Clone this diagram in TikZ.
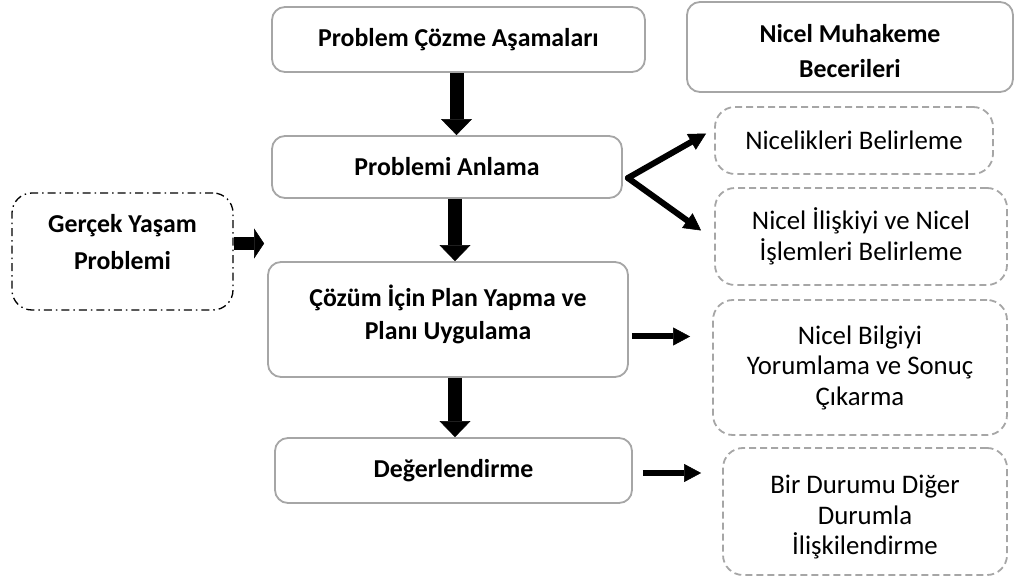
\documentclass[tikz,border=0pt]{standalone}
\usepackage{fontspec}
\setmainfont{Carlito}
\usetikzlibrary{arrows.meta,calc}
\definecolor{boxgray}{HTML}{A6A6A6}
\tikzset{
  boldtext/.style={align=center, inner sep=0pt, font=\fontsize{25.8}{34}\selectfont\bfseries},
  plaintext/.style={align=center, inner sep=0pt, font=\fontsize{26.8}{30.5}\selectfont},
  stage/.style={draw=boxgray, line width=1.8pt, rounded corners=13pt, fill=white, boldtext},
  skill/.style={draw=boxgray, line width=1.8pt, dash pattern=on 7pt off 4pt,
    rounded corners=20pt, plaintext},
  reallife/.style={draw=black, line width=1.3pt,
    dash pattern=on 8pt off 4pt on 1.5pt off 4pt, rounded corners=20pt},
  bigarrow/.style={line width=14pt, -{Triangle[width=31pt,length=16pt,line width=0.5pt]}},
  sidearrow/.style={line width=13pt, -{Triangle[width=30pt,length=10pt,line width=0.5pt]}},
  thinarrow/.style={line width=6pt, -{Triangle[width=18pt,length=17pt,line width=0.5pt]}},
}
\begin{document}
\begin{tikzpicture}[x=1pt,y=-1pt]
  \useasboundingbox (0,0) rectangle (1015,585);

  % main stages
  \node[stage, minimum width=373pt, minimum height=65pt] (pca) at (458.5,39.5)
    {Problem Çözme Aşamaları};
  \node[stage, minimum width=350pt, minimum height=62pt] (pa) at (447,167)
    {Problemi Anlama};
  \node[stage, minimum width=360pt, minimum height=115pt] (cp) at (448,319.5) {};
  \node[boldtext, font=\fontsize{25.8}{33}\selectfont\bfseries] (cptext)
    at ([yshift=5pt]cp.center) {Çözüm İçin Plan Yapma ve\\Planı Uygulama};
  \node[stage, minimum width=357pt, minimum height=65pt] (dg) at (453.5,470.5)
    {Değerlendirme};

  % heading of the skills column
  \node[stage, minimum width=326pt, minimum height=90pt] (nmb) at (850,47) {};
  \node[boldtext, font=\fontsize{25.8}{35}\selectfont\bfseries] (nmbtext)
    at ([yshift=-4pt]nmb.center) {Nicel Muhakeme\\Becerileri};

  % real-life problem
  \node[reallife, minimum width=221pt, minimum height=117pt] (gy) at (122.5,251.5) {};
  \node[boldtext, font=\fontsize{25.8}{37}\selectfont\bfseries] (gytext)
    at ([yshift=9pt]gy.center) {Gerçek Yaşam\\Problemi};

  % reasoning skills
  \node[skill, minimum width=278pt, minimum height=67pt] (nb) at (854,140.5)
    {Nicelikleri Belirleme};
  \node[skill, minimum width=292pt, minimum height=97pt] (ni) at (861,236.5)
    {Nicel İlişkiyi ve Nicel\\İşlemleri Belirleme};
  \node[skill, minimum width=294pt, minimum height=135pt] (nby) at (860,367.5)
    {Nicel Bilgiyi\\Yorumlama ve Sonuç\\Çıkarma};
  \node[skill, minimum width=284pt, minimum height=127pt] (bd) at (865,511.5) {};
  \node[plaintext] (bdtext) at ([yshift=-6pt]bd.center)
    {Bir Durumu Diğer\\Durumla\\İlişkilendirme};

  % flow between the stages
  \draw[bigarrow] ([xshift=-2pt]pca.south) -- ([xshift=-2pt]pca.south |- pa.north);
  \draw[bigarrow] ([xshift=8pt]pa.south) -- ([xshift=8pt]pa.south |- cp.north);
  \draw[bigarrow] ([xshift=7pt]cp.south) -- ([xshift=7pt]cp.south |- dg.north);

  % real-life problem feeds the plan stage
  \coordinate (gyout) at ([yshift=8pt]gy.east);
  \draw[sidearrow, shorten >=3pt] (gyout) -- (gyout -| cp.west);

  % links to the skills
  \coordinate (fork) at ([xshift=5pt,yshift=-11pt]pa.east);
  \draw[thinarrow, line cap=round] (fork) -- ([xshift=-8pt,yshift=7pt]nb.west);
  \draw[thinarrow, line cap=round] (fork) -- ([xshift=-13pt,yshift=6pt]ni.west);
  \coordinate (cpout) at ([xshift=3pt,yshift=-17pt]cp.east);
  \draw[thinarrow, shorten >=22pt] (cpout) -- (cpout -| nby.west);
  \coordinate (dgout) at ([xshift=10pt,yshift=-2.5pt]dg.east);
  \draw[thinarrow, shorten >=21pt] (dgout) -- (dgout -| bd.west);
\end{tikzpicture}
\end{document}
